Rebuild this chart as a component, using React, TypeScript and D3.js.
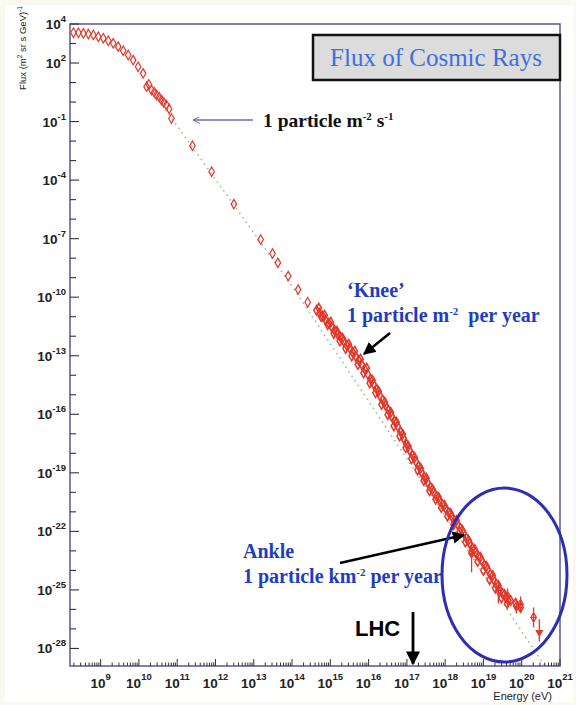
import React from 'react';
import * as d3 from 'd3';

// All data values are log10: energy in eV, flux in (m^2 sr s GeV)^-1
const lowLogE = [8.29, 8.42, 8.55, 8.68, 8.81, 8.94, 9.07, 9.2, 9.33, 9.46, 9.59, 9.72, 9.85, 9.98, 10.11, 10.2, 10.26, 10.33, 10.4, 10.46, 10.53, 10.59, 10.65, 10.72, 10.79, 10.85];
const lowLogF = [3.55, 3.55, 3.52, 3.49, 3.44, 3.35, 3.27, 3.14, 3.01, 2.84, 2.63, 2.41, 2.15, 1.81, 1.47, 0.79, 0.9, 0.62, 0.5, 0.36, 0.25, 0.1, -0.02, -0.15, -0.35, -0.84];

const midLogE = [11.4, 11.9, 12.48, 13.18, 13.49, 13.63, 13.9, 14.16, 14.41];
const midLogF = [-2.24, -3.57, -5.23, -7.04, -7.76, -8.24, -8.92, -9.61, -10.26];

const bandLogE = [14.64, 14.72, 14.8, 14.88, 14.96, 15.04, 15.11, 15.19, 15.27, 15.35, 15.43, 15.51, 15.58, 15.66, 15.74, 15.82, 15.9, 15.98, 16.05, 16.13, 16.21, 16.29, 16.37, 16.44, 16.52, 16.6, 16.68, 16.76, 16.84, 16.91, 16.99, 17.07, 17.15, 17.23, 17.31, 17.38, 17.46, 17.54, 17.62, 17.7, 17.78, 17.85, 17.93, 18.01, 18.09, 18.17, 18.24, 18.32, 18.4, 18.48, 18.56, 18.64, 18.71, 18.79, 18.87, 18.95, 19.03, 19.11, 19.18, 19.26, 19.34, 19.42, 19.5, 19.58, 19.65];
const bandLogF = [-10.67, -10.82, -10.97, -11.18, -11.33, -11.54, -11.69, -11.9, -12.05, -12.26, -12.46, -12.62, -12.82, -13.03, -13.23, -13.44, -13.69, -13.95, -14.21, -14.46, -14.72, -15.03, -15.28, -15.54, -15.8, -16.1, -16.36, -16.62, -16.92, -17.23, -17.54, -17.85, -18.1, -18.41, -18.67, -18.97, -19.23, -19.49, -19.74, -20.0, -20.21, -20.41, -20.62, -20.82, -21.03, -21.23, -21.44, -21.64, -21.85, -22.1, -22.36, -22.62, -22.87, -23.08, -23.28, -23.49, -23.74, -23.95, -24.21, -24.46, -24.72, -24.97, -25.18, -25.38, -25.54];

const band2LogE = [14.7, 14.85, 15.01, 15.17, 15.32, 15.48, 15.64, 15.79, 15.95, 16.1, 16.26, 16.42, 16.58, 16.73, 16.89, 17.04, 17.2, 17.36, 17.51, 17.67, 17.83, 17.98, 18.14, 18.3, 18.45, 18.61, 18.77, 18.92, 19.08, 19.24, 19.39, 19.55, 19.71, 19.84, 19.97];
const band2LogF = [-10.56, -10.92, -11.28, -11.74, -12.1, -12.41, -12.77, -13.18, -13.64, -14.26, -14.82, -15.38, -15.9, -16.41, -17.03, -17.64, -18.21, -18.77, -19.28, -19.85, -20.26, -20.67, -21.08, -21.44, -21.95, -22.46, -22.92, -23.33, -23.8, -24.26, -24.77, -25.23, -25.54, -25.69, -25.9];

const band3LogE = [14.76, 14.93, 15.09, 15.25, 15.4, 15.56, 15.72, 15.87, 16.03, 16.18, 16.34, 16.5, 16.66, 16.81, 16.97, 17.12, 17.28, 17.44, 17.59, 17.75, 17.9, 18.06, 18.22, 18.38, 18.53, 18.69, 18.85, 19.0, 19.16, 19.31, 19.47, 19.62];
const band3LogF = [-10.99, -11.4, -11.86, -12.25, -12.63, -13.02, -13.45, -13.89, -14.4, -14.9, -15.5, -16.02, -16.6, -17.12, -17.72, -18.28, -18.86, -19.4, -19.92, -20.36, -20.78, -21.22, -21.66, -22.02, -22.55, -23.06, -23.55, -24.0, -24.48, -24.92, -25.42, -25.7];

const errLogE = [18.69, 19.39, 19.63, 19.86, 19.97, 20.31];
const errLogF = [-23.13, -25.03, -25.33, -25.85, -25.74, -26.41];
const errHiLogF = [-22.51, -24.51, -24.92, -25.44, -25.33, -25.9];
const errLoLogF = [-24.1, -25.69, -25.85, -26.21, -26.1, -26.92];

const limLogE = [20.46];
const limLogF = [-27.18];
const limHiLogF = [-26.51];
const limLoLogF = [-27.64];

const refLogE = [10.7, 14.02, 20.59];
const refLogF = [-0.4, -9.49, -28.87];

const yTickExps = [4, 2, -1, -4, -7, -10, -13, -16, -19, -22, -25, -28];
const xTickExps = [9, 10, 11, 12, 13, 14, 15, 16, 17, 18, 19, 20, 21];

const W = 576, H = 705;
const L = 70, R = 560, T = 24, B = 666;
const RED = '#e2382c';
const ANN_BLUE = '#1f3dc2';

export default function App() {
  const x = d3.scaleLog().domain([10 ** 8.2, 1e21]).range([L, R]);
  const y = d3.scaleLog().domain([10 ** -28.9, 1e4]).range([B, T]);
  const px = (e: number) => x(10 ** e);
  const py = (f: number) => y(10 ** f);
  const diamond = d3.symbol().type(d3.symbolDiamond).size(26)() as string;
  const tri = d3.symbol().type(d3.symbolTriangle).size(30)() as string;

  const refLine = d3.line<number>().x((_, i) => px(refLogE[i])).y((_, i) => py(refLogF[i]))(refLogE) as string;

  const xTicks: { v: number; major: boolean }[] = [];
  for (let n = 8; n <= 21; n++) {
    for (let k = 1; k <= 9; k++) {
      const v = k * 10 ** n;
      if (v >= 10 ** 8.2 && v <= 1e21 * 1.0001) xTicks.push({ v, major: k === 1 });
    }
  }
  const yTicks: number[] = d3.range(-28, 5);

  const markers = (es: number[], fs: number[], key: string, sw = 1.2) =>
    es.map((e, i) => (
      <path key={key + i} d={diamond} transform={`translate(${px(e)},${py(fs[i])})`} fill="none" stroke={RED} strokeWidth={sw} />
    ));

  return (
    <svg width={W} height={H} style={{ position: 'absolute', left: 0, top: 0 }} fontFamily="'Liberation Sans', Arial, sans-serif">
      <defs>
        <marker id="blk" viewBox="0 0 10 10" refX="9" refY="5" markerWidth="5" markerHeight="5" orient="auto" markerUnits="strokeWidth">
          <path d="M0,0 L10,5 L0,10 z" fill="#000" />
        </marker>
        <marker id="thin" viewBox="0 0 12 10" refX="11" refY="5" markerWidth="9" markerHeight="7" orient="auto" markerUnits="userSpaceOnUse">
          <path d="M1,0 L11,5 L1,10" fill="none" stroke="#6c6cb4" strokeWidth={1.4} />
        </marker>
        <clipPath id="plot"><rect x={L} y={T} width={R - L} height={B - T} /></clipPath>
      </defs>
      <rect x={0} y={0} width={W} height={H} fill="#f9f9ef" />
      <rect x={5} y={5} width={W - 8} height={H - 8} fill="#ffffff" />

      {/* plot frame */}
      <rect x={L} y={T} width={R - L} height={B - T} fill="#fff" stroke="#5a5a8e" strokeWidth={1.5} />

      {/* reference power law */}
      <path d={refLine} fill="none" stroke="#8cc48c" strokeWidth={1.6} strokeDasharray="1.5,4" clipPath="url(#plot)" />

      {/* data */}
      {markers(lowLogE, lowLogF, 'lo')}
      {markers(midLogE, midLogF, 'mid')}
      {markers(bandLogE, bandLogF, 'b1', 1.5)}
      {markers(band2LogE, band2LogF, 'b2', 1.5)}
      {markers(band3LogE, band3LogF, 'b3', 1.5)}
      {errLogE.map((e, i) => (
        <g key={'err' + i}>
          <line x1={px(e)} x2={px(e)} y1={py(errHiLogF[i])} y2={py(errLoLogF[i])} stroke={RED} strokeWidth={1.3} />
          <line x1={px(e) - 3} x2={px(e) + 3} y1={py(errLogF[i])} y2={py(errLogF[i])} stroke={RED} strokeWidth={1.3} />
          <path d={diamond} transform={`translate(${px(e)},${py(errLogF[i])})`} fill="none" stroke={RED} strokeWidth={1.2} />
        </g>
      ))}
      {limLogE.map((e, i) => (
        <g key={'lim' + i}>
          <line x1={px(e)} x2={px(e)} y1={py(limHiLogF[i])} y2={py(limLoLogF[i])} stroke={RED} strokeWidth={1.3} />
          <path d={tri} transform={`translate(${px(e)},${py(limLogF[i])}) rotate(180)`} fill={RED} />
        </g>
      ))}

      {/* y ticks */}
      {yTicks.map((n) => {
        const labeled = yTickExps.includes(n);
        return <line key={'yt' + n} x1={L} x2={L + (labeled ? 9 : 6)} y1={y(10 ** n)} y2={y(10 ** n)} stroke="#333" strokeWidth={1.1} />;
      })}
      {yTickExps.map((n) => (
        <text key={'yl' + n} x={66} y={y(10 ** n) + 5} textAnchor="end" fontSize={13.5} fontWeight="bold" fill="#222">
          10<tspan dy={-7} fontSize={9.5}>{n}</tspan>
        </text>
      ))}

      {/* x ticks */}
      {xTicks.map((t, i) => (
        <line key={'xt' + i} x1={x(t.v)} x2={x(t.v)} y1={B} y2={B - (t.major ? 7 : 3.5)} stroke="#333" strokeWidth={1} />
      ))}
      {xTickExps.map((n) => (
        <text key={'xl' + n} x={x(10 ** n)} y={688} textAnchor="middle" fontSize={13.5} fontWeight="bold" fill="#222">
          10<tspan dy={-8} fontSize={9.5}>{n}</tspan>
        </text>
      ))}

      {/* axis titles */}
      <text x={552} y={700} textAnchor="end" fontSize={11} fill="#222">Energy (eV)</text>
      <text transform="translate(26,48) rotate(-90)" textAnchor="middle" fontSize={9.5} fill="#222">
        Flux (m<tspan dy={-4} fontSize={6.5}>2</tspan><tspan dy={4}> sr s GeV)</tspan><tspan dy={-4} fontSize={6.5}>-1</tspan>
      </text>

      {/* title box */}
      <rect x={313} y={35} width={247} height={45} fill="#dcdcdc" stroke="#111" strokeWidth={2.5} />
      <text x={436} y={66} textAnchor="middle" fontSize={25} fontFamily="'Liberation Serif', 'Times New Roman', serif" fill="#3c6fe0">Flux of Cosmic Rays</text>

      {/* 1 particle per m2 per s */}
      <line x1={253} y1={120} x2={193} y2={120} stroke="#6c6cb4" strokeWidth={1.4} markerEnd="url(#thin)" />
      <text x={263} y={127} fontSize={19.5} fontWeight="bold" fontFamily="'Liberation Serif', 'Times New Roman', serif" fill="#111">
        1 particle m<tspan dy={-7} fontSize={11}>-2</tspan><tspan dy={7}> s</tspan><tspan dy={-7} fontSize={11}>-1</tspan>
      </text>

      {/* Knee / Ankle annotations */}
      <g fontFamily="'Liberation Serif', 'Times New Roman', serif" fontWeight="bold" fontSize={20} fill={ANN_BLUE}>
        <text x={347} y={297}>‘Knee’</text>
        <text x={347} y={322}>1 particle m<tspan dy={-7} fontSize={11}>-2</tspan><tspan dy={7}>{'\u00a0 per year'}</tspan></text>
        <text x={243} y={558}>Ankle</text>
        <text x={243} y={583}>1 particle km<tspan dy={-7} fontSize={11}>-2</tspan><tspan dy={7}> per year</tspan></text>
      </g>
      <line x1={390} y1={333} x2={364} y2={354} stroke="#000" strokeWidth={2.5} markerEnd="url(#blk)" />
      <line x1={340} y1={563} x2={464} y2={535} stroke="#000" strokeWidth={2.5} markerEnd="url(#blk)" />

      {/* LHC */}
      <text x={355} y={636} fontSize={22} fontWeight="bold" fill="#000">LHC</text>
      <line x1={413} y1={612} x2={413} y2={664} stroke="#000" strokeWidth={2.8} markerEnd="url(#blk)" />

      {/* ellipse */}
      <ellipse cx={504.5} cy={575} rx={62.5} ry={87} fill="none" stroke="#2e2eb0" strokeWidth={3} />
    </svg>
  );
}
